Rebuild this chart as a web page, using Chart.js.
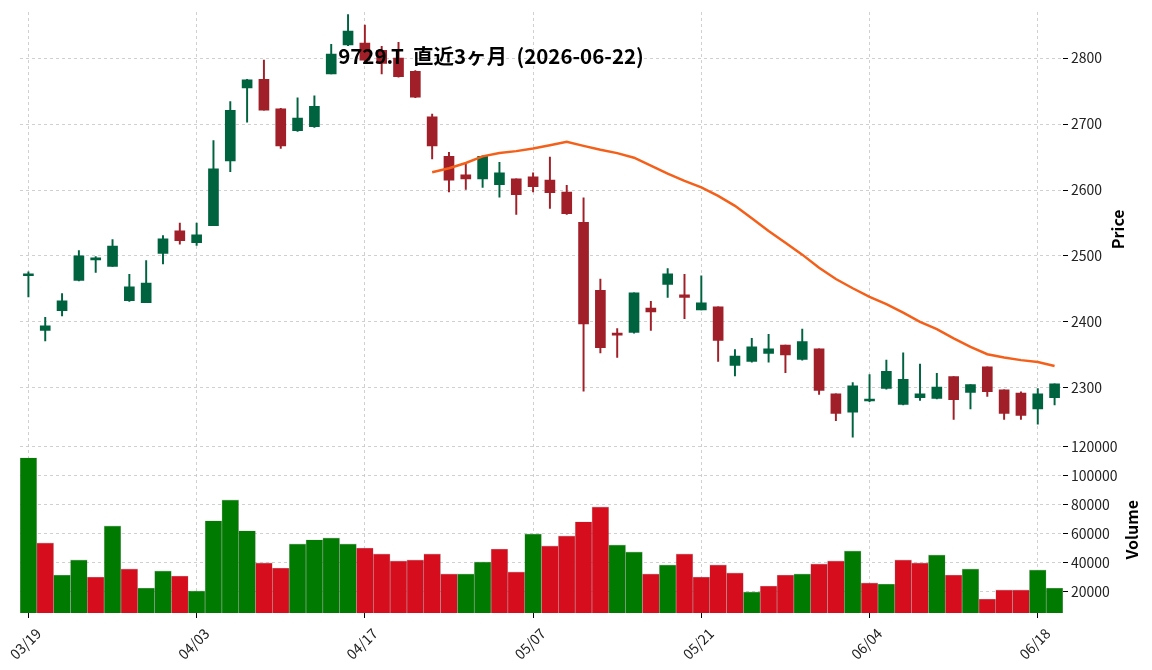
<!DOCTYPE html>
<html lang="ja">
<head>
<meta charset="utf-8">
<title>9729.T 直近3ヶ月</title>
<script src="https://cdn.jsdelivr.net/npm/chart.js@4.4.1/dist/chart.umd.min.js"></script>
<style>
    html, body { margin: 0; padding: 0; background: #fff; }
    #wrap { width: 1152px; height: 670px; }
</style>
</head>
<body>
<div id="wrap"><canvas id="stockChart" width="1152" height="670"></canvas></div>
<script>
// 日付 (MM/DD) - 営業日のみ
const dates = [
    '03/19', '03/23', '03/24', '03/25', '03/26', '03/27', '03/30', '03/31', '04/01', '04/02',
    '04/03', '04/06', '04/07', '04/08', '04/09', '04/10', '04/13', '04/14', '04/15', '04/16',
    '04/17', '04/20', '04/21', '04/22', '04/23', '04/24', '04/27', '04/28', '04/30', '05/01',
    '05/07', '05/08', '05/11', '05/12', '05/13', '05/14', '05/15', '05/18', '05/19', '05/20',
    '05/21', '05/22', '05/25', '05/26', '05/27', '05/28', '05/29', '06/01', '06/02', '06/03',
    '06/04', '06/05', '06/08', '06/09', '06/10', '06/11', '06/12', '06/15', '06/16', '06/17',
    '06/18', '06/19'
];

const opens = [
    2470, 2387, 2417, 2463, 2494, 2484, 2432, 2429, 2504, 2538,
    2520, 2546, 2644, 2755, 2768, 2723, 2690, 2696, 2776, 2820,
    2823, 2812, 2800, 2780, 2711, 2651, 2623, 2617, 2608, 2617,
    2620, 2615, 2597, 2551, 2448, 2382, 2384, 2421, 2457, 2441,
    2418, 2423, 2334, 2340, 2352, 2365, 2343, 2359, 2291, 2263,
    2280, 2299, 2275, 2285, 2284, 2317, 2293, 2332, 2297, 2292,
    2268, 2285
];
const highs = [
    2476, 2407, 2443, 2508, 2499, 2525, 2472, 2493, 2531, 2550,
    2550, 2675, 2734, 2768, 2797, 2724, 2740, 2743, 2821, 2866,
    2850, 2818, 2824, 2781, 2715, 2657, 2640, 2652, 2642, 2617,
    2626, 2650, 2607, 2588, 2465, 2390, 2444, 2431, 2481, 2472,
    2470, 2423, 2358, 2375, 2381, 2365, 2389, 2359, 2291, 2308,
    2320, 2342, 2353, 2336, 2322, 2317, 2305, 2332, 2297, 2294,
    2299, 2306
];
const lows = [
    2438, 2371, 2409, 2462, 2475, 2484, 2431, 2429, 2488, 2518,
    2516, 2546, 2628, 2703, 2721, 2663, 2689, 2695, 2776, 2819,
    2795, 2776, 2771, 2740, 2647, 2597, 2601, 2604, 2589, 2563,
    2597, 2572, 2563, 2295, 2353, 2346, 2383, 2387, 2437, 2405,
    2418, 2340, 2318, 2339, 2339, 2323, 2342, 2290, 2250, 2225,
    2279, 2298, 2274, 2281, 2283, 2252, 2268, 2287, 2252, 2252,
    2245, 2274
];
const closes = [
    2472, 2394, 2432, 2500, 2497, 2515, 2453, 2459, 2526, 2523,
    2532, 2632, 2721, 2767, 2721, 2667, 2709, 2727, 2806, 2841,
    2797, 2792, 2772, 2741, 2667, 2615, 2617, 2651, 2626, 2593,
    2605, 2596, 2564, 2397, 2361, 2380, 2444, 2415, 2473, 2437,
    2429, 2372, 2348, 2362, 2359, 2350, 2370, 2296, 2261, 2303,
    2282, 2325, 2313, 2291, 2301, 2282, 2305, 2294, 2261, 2258,
    2291, 2306
];
const volumes = [
    112200, 53600, 31500, 41900, 30100, 65300, 35700, 22500, 34300, 30800,
    20500, 68800, 83200, 61900, 39800, 36300, 52900, 55700, 57000, 52900,
    50100, 46000, 41200, 41900, 46000, 32200, 32200, 40500, 49400, 33600,
    59800, 51500, 58400, 68100, 78400, 52200, 47400, 32200, 38400, 46000,
    30100, 38400, 32900, 19800, 23900, 31500, 32200, 39100, 41200, 48100,
    26000, 25300, 41900, 39800, 45300, 31500, 35700, 14900, 21200, 21200,
    35000, 22500
];
// 25日移動平均 (最初の24日は値なし)
const ma25 = Array(24).fill(null).concat([
    2627, 2633, 2641, 2651, 2656, 2659, 2663, 2668, 2673, 2667,
    2661, 2656, 2649, 2637, 2625, 2614, 2604, 2591, 2576, 2557,
    2538, 2520, 2502, 2482, 2465, 2451, 2438, 2427, 2414, 2400,
    2389, 2375, 2362, 2351, 2346, 2342, 2339, 2333
]);

// 目盛り
const dateTickIndexes = [0, 10, 20, 30, 40, 50, 60];
const priceTicks = [2300, 2400, 2500, 2600, 2700, 2800];
const volumeTicks = [20000, 40000, 60000, 80000, 100000, 120000];

const chartTitle = '9729.T  直近3ヶ月  (2026-06-22)';

const upCandle = '#006340';
const downCandle = '#a01f28';
const upVolume = '#007a00';
const downVolume = '#d50d1d';
const maColor = '#f4601a';
const gridColor = '#c4c4c4';

Chart.defaults.font.family = "'Noto Sans CJK JP', 'Noto Sans', sans-serif";
Chart.defaults.color = '#222';

// ローソク足の色は始値/終値、出来高の色は前日終値との比較
const candleColors = closes.map((c, i) => c >= opens[i] ? upCandle : downCandle);
const volumeColors = closes.map((c, i) => (i === 0 || c >= closes[i - 1]) ? upVolume : downVolume);

const wickData = dates.map((d, i) => ({ x: i, y: [lows[i], highs[i]] }));
const bodyData = dates.map((d, i) => ({ x: i, y: [opens[i], closes[i]] }));
const volumeData = dates.map((d, i) => ({ x: i, y: volumes[i] }));
const maData = dates.map((d, i) => ({ x: i, y: ma25[i] }));

// タイトルと軸ラベル (matplotlib風に下から上へ)
const overlayText = {
    id: 'overlayText',
    afterDraw(chart) {
        const { ctx, chartArea, scales } = chart;
        ctx.save();
        ctx.fillStyle = '#000';
        ctx.textAlign = 'center';
        ctx.textBaseline = 'middle';
        ctx.font = "bold 20.5px 'Noto Sans CJK JP'";
        ctx.fillText(chartTitle, 491, 56);

        ctx.font = "bold 16px 'Noto Sans CJK JP'";
        const axisTitles = [
            ['Price', scales.y, chartArea.right + 55],
            ['Volume', scales.yVol, chartArea.right + 69]
        ];
        axisTitles.forEach(([text, scale, x]) => {
            ctx.save();
            ctx.translate(x, (scale.top + scale.bottom) / 2);
            ctx.rotate(-Math.PI / 2);
            ctx.fillText(text, 0, 0);
            ctx.restore();
        });
        ctx.restore();
    }
};

const gridOpts = {
    color: gridColor,
    lineWidth: 0.8,
    offset: false,
    tickColor: '#000',
    tickLength: 5,
    tickWidth: 1,
    tickBorderDash: []
};

const fixTicks = (values) => (scale) => {
    scale.ticks = values.map(v => ({ value: v }));
};

new Chart(document.getElementById('stockChart'), {
    type: 'bar',
    data: {
        datasets: [
            {
                type: 'line',
                label: 'MA25',
                data: maData,
                yAxisID: 'y',
                borderColor: maColor,
                borderWidth: 2.5,
                pointRadius: 0,
                tension: 0,
                order: 0
            },
            {
                label: 'body',
                data: bodyData,
                yAxisID: 'y',
                backgroundColor: candleColors,
                barThickness: 10,
                minBarLength: 2,
                grouped: false,
                order: 1
            },
            {
                label: 'wick',
                data: wickData,
                yAxisID: 'y',
                backgroundColor: candleColors,
                barThickness: 1.3,
                grouped: false,
                order: 2
            },
            {
                label: 'volume',
                data: volumeData,
                yAxisID: 'yVol',
                backgroundColor: volumeColors,
                borderColor: 'rgba(40, 40, 40, 0.25)',
                borderWidth: 0.6,
                barPercentage: 1,
                categoryPercentage: 1,
                grouped: false,
                order: 3
            }
        ]
    },
    options: {
        responsive: false,
        animation: false,
        layout: { padding: { left: 20, top: 12, right: 0, bottom: 0 } },
        plugins: {
            legend: { display: false },
            tooltip: { enabled: false },
            title: { display: false }
        },
        scales: {
            x: {
                type: 'linear',
                min: -0.5,
                max: dates.length - 0.5,
                offset: false,
                afterBuildTicks: fixTicks(dateTickIndexes),
                ticks: {
                    autoSkip: false,
                    maxRotation: 45,
                    minRotation: 45,
                    padding: 7,
                    labelOffset: 10,
                    font: { size: 14 },
                    callback: (value) => dates[value] ?? ''
                },
                grid: gridOpts,
                border: { display: false, dash: [3, 3] },
                afterFit: (scale) => {
                    scale.height = 57;
                    scale.paddingLeft = 0;
                    scale.paddingRight = 0;
                }
            },
            y: {
                type: 'linear',
                position: 'right',
                stack: 'panes',
                stackWeight: 434.5,
                min: 2211,
                max: 2870,
                afterBuildTicks: fixTicks(priceTicks),
                ticks: {
                    autoSkip: false,
                    padding: 3,
                    font: { size: 14 },
                    callback: (value) => String(value)
                },
                grid: gridOpts,
                border: { display: false, dash: [3, 3] },
                afterFit: (scale) => {
                    scale.width = 89;
                    scale.paddingTop = 0;
                    scale.paddingBottom = 0;
                }
            },
            yVol: {
                type: 'linear',
                position: 'right',
                stack: 'panes',
                stackWeight: 166.5,
                min: 5300,
                max: 120000,
                afterBuildTicks: fixTicks(volumeTicks),
                ticks: {
                    autoSkip: false,
                    padding: 3,
                    font: { size: 14 },
                    callback: (value) => String(value)
                },
                grid: gridOpts,
                border: { display: false, dash: [3, 3] },
                afterFit: (scale) => {
                    scale.width = 89;
                    scale.paddingTop = 0;
                    scale.paddingBottom = 0;
                }
            }
        }
    },
    plugins: [overlayText]
});
</script>
</body>
</html>
